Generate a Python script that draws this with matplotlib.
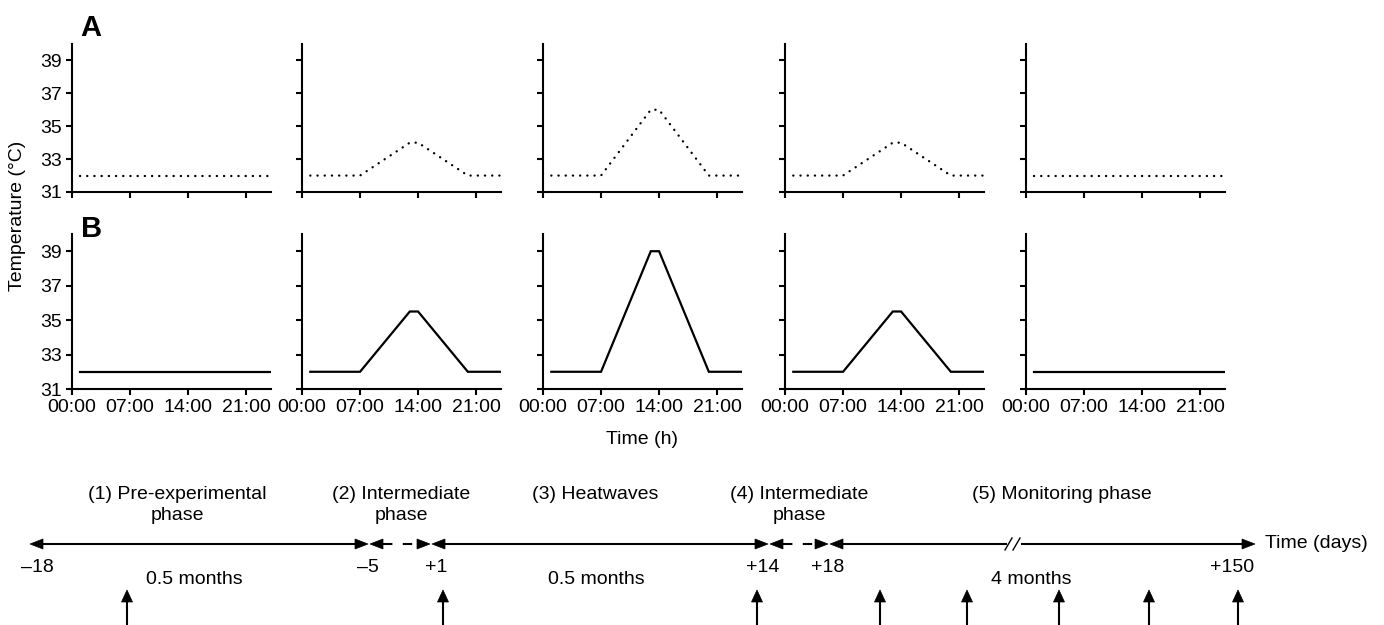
import matplotlib
matplotlib.use('Agg')
import matplotlib.pyplot as plt
from matplotlib.patches import Polygon

plt.rcParams['font.family'] = ['Liberation Sans', 'DejaVu Sans']
plt.rcParams['font.size'] = 14

# ---------------- data ----------------
hours = [1, 7, 13, 14, 20, 24]
temps_A = [
    [32, 32, 32, 32, 32, 32],
    [32, 32, 34, 34, 32, 32],
    [32, 32, 36, 36, 32, 32],
    [32, 32, 34, 34, 32, 32],
    [32, 32, 32, 32, 32, 32],
]
temps_B = [
    [32, 32, 32, 32, 32, 32],
    [32, 32, 35.5, 35.5, 32, 32],
    [32, 32, 39, 39, 32, 32],
    [32, 32, 35.5, 35.5, 32, 32],
    [32, 32, 32, 32, 32, 32],
]
xticks = [0, 7, 14, 21]
xticklabels = ['00:00', '07:00', '14:00', '21:00']
yticks = [31, 33, 35, 37, 39]

day_labels = ['–18', '–5', '+1', '+14', '+18', '+150']
phase_titles = ['(1) Pre-experimental\nphase', '(2) Intermediate\nphase', '(3) Heatwaves',
                '(4) Intermediate\nphase', '(5) Monitoring phase']
durations = ['0.5 months', '0.5 months', '4 months']

# ---------------- layout (pixels) ----------------
W, H = 1384, 625
fig = plt.figure(figsize=(W / 100, H / 100), dpi=100)

# timeline / annotation overlay axes in pixel units
tl = fig.add_axes([0, 0, 1, 1])
tl.set_xlim(0, W)
tl.set_ylim(H, 0)
tl.axis('off')
tl.patch.set_visible(False)
tl.set_zorder(10)

panel_left = [72, 302, 543, 785, 1026]
panel_w = 199
rows = [(44, 192, temps_A, (0, (0.05, 3.0)), 'A', (91, 28)),
        (234, 389, temps_B, '-', 'B', (92, 229))]

LW = 1.5
for (top, bot, temps, ls, letter, lpos) in rows:
    for i, (left, vals) in enumerate(zip(panel_left, temps)):
        ax = fig.add_axes([left / W, 1 - bot / H, panel_w / W, (bot - top) / H])
        ax.patch.set_visible(False)
        if ls == '-':
            ax.plot(hours, vals, color='black', lw=1.6, linestyle='-', solid_joinstyle='miter')
        else:
            ax.plot(hours, vals, color='black', lw=1.7, linestyle=ls, dash_capstyle='round')
        ax.set_xlim(0, 24)
        ax.set_ylim(31, 40)
        ax.set_xticks(xticks)
        ax.set_yticks(yticks)
        for s in ['top', 'right']:
            ax.spines[s].set_visible(False)
        for s in ['left', 'bottom']:
            ax.spines[s].set_linewidth(LW)
        ax.tick_params(length=4, width=LW, labelsize=14, pad=3)
        if letter == 'B':
            ax.set_xticklabels(xticklabels)
        else:
            ax.set_xticklabels([])
        if i != 0:
            ax.set_yticklabels([])
    tl.text(lpos[0], lpos[1], letter, fontsize=21, fontweight='bold',
            ha='center', va='center')

tl.text(18, 216, 'Temperature (°C)', rotation=90, ha='center', va='center', fontsize=14)
tl.text(642, 440, 'Time (h)', ha='center', va='center', fontsize=14)

# ---------------- timeline ----------------
y0 = 544
HL, HW = 13, 5.0


def head(x, y, d):
    if d == 'r':
        pts = [(x, y), (x - HL, y - HW), (x - HL, y + HW)]
    elif d == 'l':
        pts = [(x, y), (x + HL, y - HW), (x + HL, y + HW)]
    else:
        pts = [(x, y), (x - 5.5, y + 12), (x + 5.5, y + 12)]
    tl.add_patch(Polygon(pts, closed=True, facecolor='black', edgecolor='black', lw=0.5))


segments = [(30, 368, '-'), (370, 430, '--'), (432, 768, '-'), (770, 828, '--'), (830, 1255, '-')]
for a, b, ls in segments:
    if ls == '-':
        if a == 830:
            tl.plot([a + HL - 1, 1007], [y0, y0], color='black', lw=LW, solid_capstyle='butt')
            tl.plot([1021, b - HL + 1], [y0, y0], color='black', lw=LW, solid_capstyle='butt')
        else:
            tl.plot([a + HL - 1, b - HL + 1], [y0, y0], color='black', lw=LW, solid_capstyle='butt')
    else:
        tl.plot([a + HL, b - HL], [y0, y0], color='black', lw=LW, linestyle=(0, (4.5, 5)),
                solid_capstyle='butt', dash_capstyle='butt')
    head(a, y0, 'l')
    head(b, y0, 'r')

# axis break mark
for xs in (1005, 1013):
    tl.plot([xs, xs + 7], [y0 + 6, y0 - 6], color='black', lw=1.0)

tl.text(1265, y0, 'Time (days)', ha='left', va='center', fontsize=14)

label_x = [37, 368, 436, 763, 828, 1232]
for lx, lab in zip(label_x, day_labels):
    tl.text(lx, 568, lab, ha='center', va='center', fontsize=14)

title_x = [177, 401, 595, 799, 1062]
for tx, t in zip(title_x, phase_titles):
    tl.text(tx, 486, t, ha='center', va='top', fontsize=14, linespacing=1.3)

dur_x = [194, 596, 1031]
for dx, d in zip(dur_x, durations):
    tl.text(dx, 579, d, ha='center', va='center', fontsize=14)

sample_x = [127, 443, 757, 880, 967, 1059, 1149, 1238]
for sx in sample_x:
    tl.plot([sx, sx], [600, 625], color='black', lw=LW, solid_capstyle='butt')
    head(sx, 590, 'u')

fig.savefig('out.png', dpi=100)
